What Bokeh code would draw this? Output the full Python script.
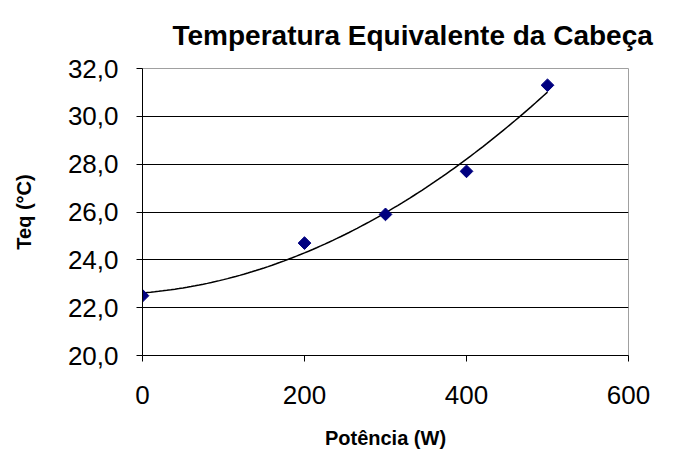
import numpy as np
from bokeh.plotting import figure
from bokeh.models import FixedTicker, CustomJSTickFormatter, Range1d
from bokeh.embed import file_html
from bokeh.resources import INLINE

# data
potencia = [0, 200, 300, 400, 500]
teq = [22.5, 24.7, 25.9, 27.7, 31.3]
x_ticks = [0, 200, 400, 600]
y_ticks = [20, 22, 24, 26, 28, 30, 32]
grid_ticks = [22, 24, 26, 28, 30]
title_text = "Temperatura Equivalente da Cabeça"
x_label = "Potência (W)"
y_label = "Teq (°C)"

# polynomial (order 2) trend line, as in the original chart
coef = np.polyfit(potencia, teq, 2)
trend_x = np.linspace(0, 500, 101)
trend_y = np.polyval(coef, trend_x)

FONT = "Liberation Sans"

p = figure(width=679, height=451, output_backend="svg", toolbar_location=None,
           x_range=Range1d(0, 600), y_range=Range1d(20, 32),
           min_border_left=142, min_border_right=51, min_border_top=68, min_border_bottom=89)

p.title.text = title_text
p.title.text_font = FONT
p.title.text_font_size = "28px"
p.title.text_font_style = "bold"
p.title.text_color = "black"
p.title.align = "left"
p.title.offset = 30
p.title.standoff = 35

p.background_fill_color = "white"
p.border_fill_color = "white"
p.outline_line_color = "#a0a0a0"
p.outline_line_width = 1

p.xgrid.visible = False
p.ygrid.ticker = FixedTicker(ticks=grid_ticks)
p.ygrid.grid_line_color = "black"
p.ygrid.grid_line_width = 1

for ax in (p.xaxis, p.yaxis):
    ax.axis_line_color = "black"
    ax.major_tick_line_color = "black"
    ax.minor_tick_line_color = None
    ax.major_tick_out = 6
    ax.major_tick_in = 0
    ax.major_label_text_font = FONT
    ax.major_label_text_font_size = "26px"
    ax.major_label_text_color = "black"
    ax.axis_label_text_font = FONT
    ax.axis_label_text_font_size = "20px"
    ax.axis_label_text_font_style = "bold"
    ax.axis_label_text_color = "black"

p.xaxis.ticker = FixedTicker(ticks=x_ticks)
p.yaxis.ticker = FixedTicker(ticks=y_ticks)
p.yaxis.formatter = CustomJSTickFormatter(code="return tick.toFixed(1).replace('.', ',');")
p.xaxis.axis_label = x_label
p.yaxis.axis_label = y_label
p.xaxis.major_label_standoff = 24
p.yaxis.major_label_standoff = 18
p.xaxis.axis_label_standoff = 20
p.yaxis.axis_label_standoff = 30

p.line(trend_x, trend_y, line_color="black", line_width=1.5)
p.scatter(potencia, teq, marker="square", angle=np.pi / 4, size=9,
          fill_color="#000080", line_color="#000080")

open("out.html", "w").write(file_html(p, INLINE))
